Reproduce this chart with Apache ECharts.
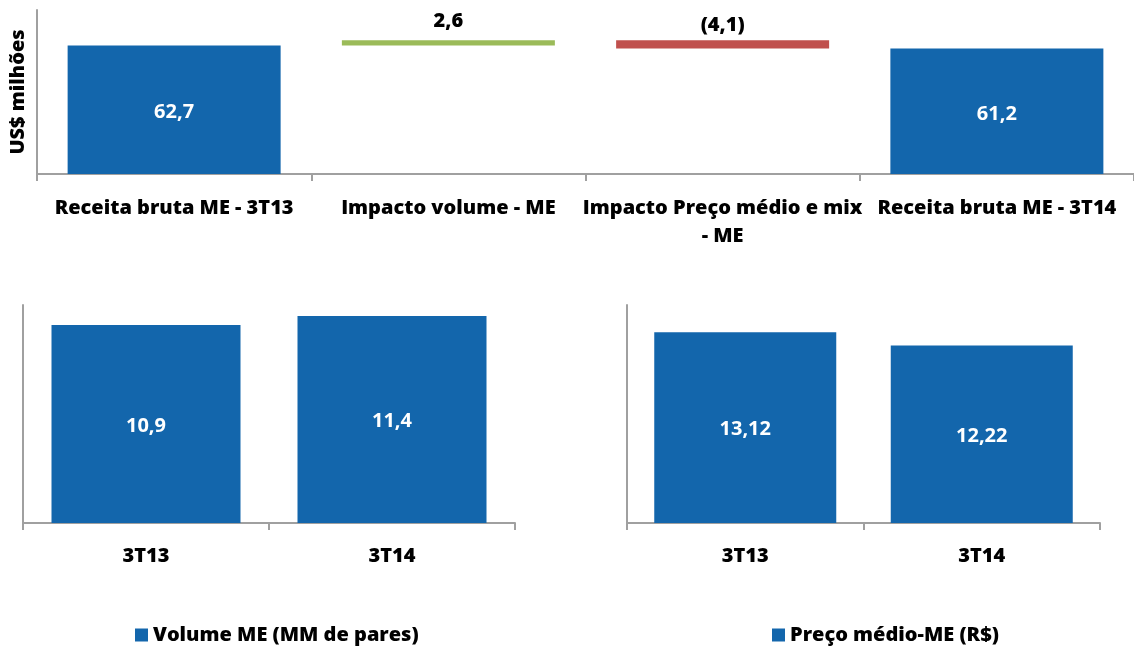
<!DOCTYPE html>
<html>
<head>
<meta charset="utf-8">
<script src="https://cdn.jsdelivr.net/npm/echarts@6/dist/echarts.min.js"></script>
<style>
  html, body { margin: 0; padding: 0; background: #fff; }
  #chart { width: 1134px; height: 646px; }
</style>
</head>
<body>
<div id="chart"></div>
<script>
// top: receita bruta waterfall
const catsReceita = ['Receita bruta ME - 3T13', 'Impacto volume - ME', 'Impacto Preço médio e mix\n- ME', 'Receita bruta ME - 3T14'];
const receitaInicial = 62.7;
const impactoVolume = 2.6;
const impactoPreco = -4.1;
const receitaFinal = 61.2;

// bottom charts
const trimestres = ['3T13', '3T14'];
const volumeME = [10.9, 11.4];
const precoME = [13.12, 12.22];

const BLUE = '#1366AC';
const GREEN = '#9BBB59';
const RED = '#C0504D';
const AXIS = '#A0A0A0';
const FONT = 'Open Sans';
const FS = 20;
const FW = 800;

const fmt = (v, d) => Number(v).toFixed(d).replace('.', ',');

// waterfall helpers built from the values above
const baseVolume = receitaInicial;
const basePreco = receitaInicial + impactoVolume + impactoPreco;
const baseData = ['-', baseVolume, basePreco, '-'];
const totalData = [receitaInicial, '-', '-', receitaFinal];
const upData = ['-', impactoVolume, '-', '-'];
const downData = ['-', '-', Math.abs(impactoPreco), '-'];

const axisLine = { show: true, lineStyle: { color: AXIS, width: 2 } };
const catLabel = { color: '#000', fontWeight: FW, fontSize: FS, fontFamily: FONT };
const valueLabelIn = {
  show: true, position: 'inside', color: '#fff', fontWeight: 'bold', fontSize: FS, fontFamily: FONT
};

const chart = echarts.init(document.getElementById('chart'), null, { renderer: 'canvas' });

chart.setOption({
  animation: false,
  textStyle: { fontFamily: FONT },
  grid: [
    { left: 37, top: 10, width: 1103, height: 164 },
    { left: 23, top: 305, width: 492, height: 218 },
    { left: 627, top: 305, width: 473, height: 218 }
  ],
  legend: [
    {
      data: ['Volume ME (MM de pares)'],
      left: 130, top: 620,
      icon: 'rect', itemWidth: 13, itemHeight: 13, itemGap: 6,
      textStyle: { color: '#000', fontWeight: FW, fontSize: FS, fontFamily: FONT }
    },
    {
      data: ['Preço médio-ME (R$)'],
      left: 767, top: 620,
      icon: 'rect', itemWidth: 13, itemHeight: 13, itemGap: 6,
      textStyle: { color: '#000', fontWeight: FW, fontSize: FS, fontFamily: FONT }
    }
  ],
  xAxis: [
    {
      type: 'category', gridIndex: 0, data: catsReceita,
      axisLine: axisLine,
      axisTick: { show: true, length: 7, lineStyle: { color: AXIS, width: 2 } },
      axisLabel: Object.assign({ margin: 20, lineHeight: 28, interval: 0 }, catLabel)
    },
    {
      type: 'category', gridIndex: 1, data: trimestres,
      axisLine: axisLine,
      axisTick: { show: true, length: 7, lineStyle: { color: AXIS, width: 2 } },
      axisLabel: Object.assign({ margin: 23 }, catLabel)
    },
    {
      type: 'category', gridIndex: 2, data: trimestres,
      axisLine: axisLine,
      axisTick: { show: true, length: 7, lineStyle: { color: AXIS, width: 2 } },
      axisLabel: Object.assign({ margin: 23 }, catLabel)
    }
  ],
  yAxis: [
    {
      type: 'value', gridIndex: 0, min: 0, max: 80,
      name: 'US$ milhões', nameLocation: 'middle', nameRotate: 90, nameGap: 9,
      nameTextStyle: { color: '#000', fontWeight: FW, fontSize: FS, fontFamily: FONT },
      axisLine: axisLine, axisTick: { show: false }, axisLabel: { show: false }, splitLine: { show: false }
    },
    {
      type: 'value', gridIndex: 1, min: 0, max: 12,
      axisLine: axisLine, axisTick: { show: false }, axisLabel: { show: false }, splitLine: { show: false }
    },
    {
      type: 'value', gridIndex: 2, min: 0, max: 15,
      axisLine: axisLine, axisTick: { show: false }, axisLabel: { show: false }, splitLine: { show: false }
    }
  ],
  series: [
    {
      name: 'base', type: 'bar', stack: 'wf', xAxisIndex: 0, yAxisIndex: 0,
      barWidth: 213, data: baseData,
      itemStyle: { color: 'transparent' }, silent: true
    },
    {
      name: 'Receita', type: 'bar', stack: 'wf', xAxisIndex: 0, yAxisIndex: 0,
      barWidth: 213, data: totalData,
      itemStyle: { color: BLUE },
      label: Object.assign({}, valueLabelIn, { offset: [0, 3], formatter: p => fmt(p.value, 1) })
    },
    {
      name: 'Volume', type: 'bar', stack: 'wf', xAxisIndex: 0, yAxisIndex: 0,
      barWidth: 213, data: upData,
      itemStyle: { color: GREEN },
      label: {
        show: true, position: 'top', distance: 9, color: '#000', fontWeight: FW, fontSize: FS, fontFamily: FONT,
        formatter: p => fmt(p.value, 1)
      }
    },
    {
      name: 'Preco', type: 'bar', stack: 'wf', xAxisIndex: 0, yAxisIndex: 0,
      barWidth: 213, data: downData,
      itemStyle: { color: RED },
      label: {
        show: true, position: 'top', distance: 5, color: '#000', fontWeight: FW, fontSize: FS, fontFamily: FONT,
        formatter: p => '(' + fmt(p.value, 1) + ')'
      }
    },
    {
      name: 'Volume ME (MM de pares)', type: 'bar', xAxisIndex: 1, yAxisIndex: 1,
      barWidth: 189, data: volumeME,
      itemStyle: { color: BLUE },
      label: Object.assign({}, valueLabelIn, { offset: [0, 2], formatter: p => fmt(p.value, 1) })
    },
    {
      name: 'Preço médio-ME (R$)', type: 'bar', xAxisIndex: 2, yAxisIndex: 2,
      barWidth: 182, data: precoME,
      itemStyle: { color: BLUE },
      label: Object.assign({}, valueLabelIn, { offset: [0, 2], formatter: p => fmt(p.value, 2) })
    }
  ]
});
</script>
</body>
</html>
